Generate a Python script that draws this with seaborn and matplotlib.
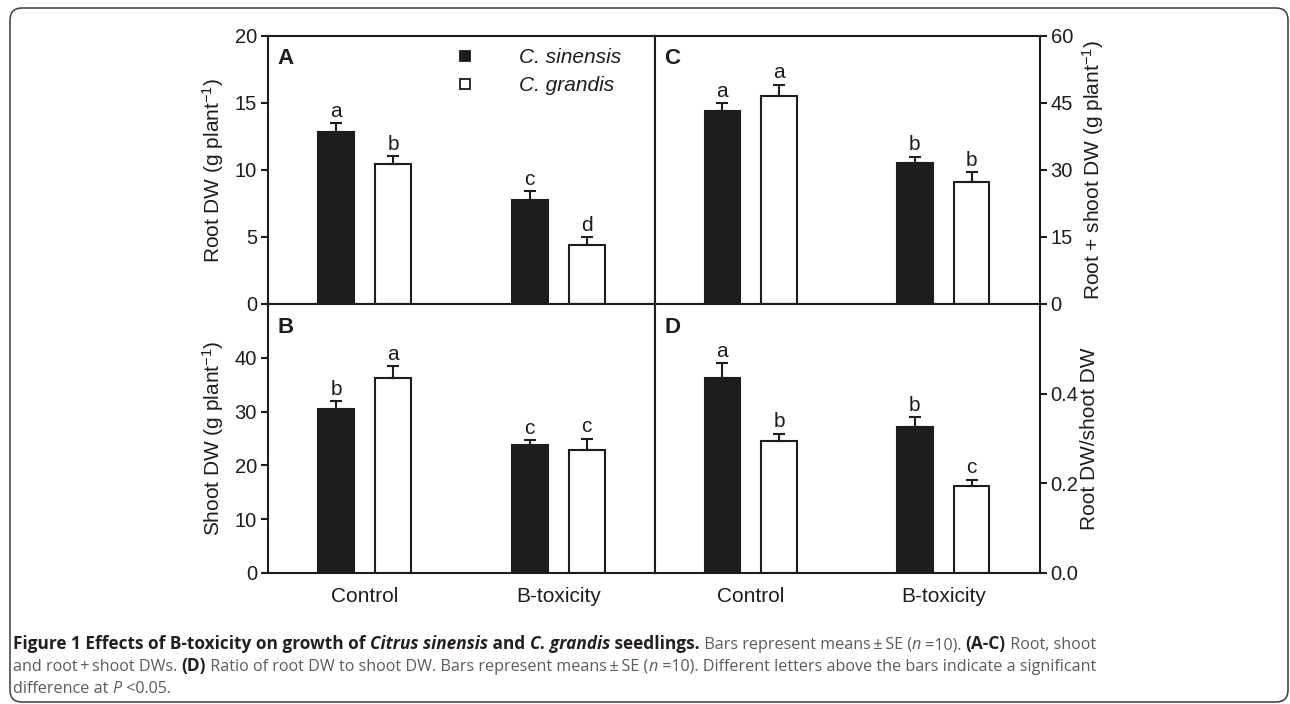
import numpy as np
import pandas as pd
import matplotlib
matplotlib.use("Agg")
import matplotlib.pyplot as plt
import seaborn as sns
from matplotlib.lines import Line2D
from matplotlib.patches import FancyBboxPatch
from matplotlib.transforms import IdentityTransform

# ---------------- data ----------------
treatments = ["Control", "B-toxicity"]
species = ["C. sinensis", "C. grandis"]

root_sin = [12.85, 7.77]
root_sin_se = [0.65, 0.64]
root_gra = [10.45, 4.39]
root_gra_se = [0.60, 0.60]
root_let_sin = ["a", "c"]
root_let_gra = ["b", "d"]
root_ticks = [0, 5, 10, 15, 20]
root_ticklabels = ["0", "5", "10", "15", "20"]

shoot_sin = [30.4, 23.75]
shoot_sin_se = [1.5, 0.95]
shoot_gra = [36.2, 22.9]
shoot_gra_se = [2.2, 2.1]
shoot_let_sin = ["b", "c"]
shoot_let_gra = ["a", "c"]
shoot_ticks = [0, 10, 20, 30, 40]
shoot_ticklabels = ["0", "10", "20", "30", "40"]

total_sin = [43.3, 31.5]
total_sin_se = [1.7, 1.5]
total_gra = [46.5, 27.25]
total_gra_se = [2.6, 2.35]
total_let_sin = ["a", "b"]
total_let_gra = ["a", "b"]
total_ticks = [0, 15, 30, 45, 60]
total_ticklabels = ["0", "15", "30", "45", "60"]

ratio_sin = [0.436, 0.326]
ratio_sin_se = [0.032, 0.022]
ratio_gra = [0.294, 0.193]
ratio_gra_se = [0.017, 0.015]
ratio_let_sin = ["a", "b"]
ratio_let_gra = ["b", "c"]
ratio_ticks = [0.0, 0.2, 0.4]
ratio_ticklabels = ["0.0", "0.2", "0.4"]

# ---------------- style ----------------
sns.set_theme(style="white")
plt.rcParams["font.family"] = ["Liberation Sans", "DejaVu Sans"]
plt.rcParams["mathtext.fontset"] = "custom"
plt.rcParams["mathtext.rm"] = "Liberation Sans"
plt.rcParams["mathtext.it"] = "Liberation Sans:italic"
plt.rcParams["mathtext.bf"] = "Liberation Sans:bold"

BLACK = "#1e1c1d"
TICK_FS = 14.5
LW = 1.5

fig = plt.figure(figsize=(12.9, 7.04), dpi=100)
W, H = 1290.0, 704.0


def axes_px(x0, x1, ytop, ybot):
    return fig.add_axes([x0 / W, (H - ybot) / H, (x1 - x0) / W, (ybot - ytop) / H])


axA = axes_px(268, 655, 36, 304)
axB = axes_px(268, 655, 304, 573)
axC = axes_px(654.5, 1039.5, 36, 304)
axD = axes_px(654.5, 1039.5, 304, 573)


def panel(ax, sin, sin_se, gra, gra_se, let_sin, let_gra, ylim, ticks, ticklabels,
          ylabel, side, letter, show_x):
    df = pd.DataFrame({
        "treatment": treatments * 2,
        "species": [species[0]] * len(treatments) + [species[1]] * len(treatments),
        "value": list(sin) + list(gra),
    })
    sns.barplot(data=df, x="treatment", y="value", hue="species",
                order=treatments, hue_order=species,
                palette={species[0]: BLACK, species[1]: "white"},
                saturation=1, edgecolor=BLACK, linewidth=LW,
                width=0.59, gap=0.375, errorbar=None, legend=False, ax=ax)
    for cont, ses, lets in zip(ax.containers, [sin_se, gra_se], [let_sin, let_gra]):
        for bar, e, lab in zip(cont, ses, lets):
            xc = bar.get_x() + bar.get_width() / 2
            h = bar.get_height()
            ax.errorbar([xc], [h], yerr=[[0], [e]], fmt="none", ecolor=BLACK,
                        elinewidth=LW, capsize=4.3, capthick=LW, zorder=3)
            ax.annotate(lab, (xc, h + e), xytext=(0, 4.5), textcoords="offset points",
                        ha="center", va="baseline", fontsize=15, color=BLACK)
    ax.set_xlim(-0.5, 1.5)
    ax.set_ylim(*ylim)
    ax.set_yticks(ticks)
    ax.set_yticklabels(ticklabels)
    ax.set_xlabel("")
    ax.set_ylabel(ylabel, fontsize=15, color=BLACK)
    for s in ax.spines.values():
        s.set_visible(True)
        s.set_linewidth(LW)
        s.set_color(BLACK)
    ax.tick_params(axis="y", direction="out", length=5, width=LW, color=BLACK,
                   labelsize=TICK_FS, labelcolor=BLACK, pad=3,
                   left=(side == "left"), labelleft=(side == "left"),
                   right=(side == "right"), labelright=(side == "right"))
    ax.tick_params(axis="x", length=0, pad=10, labelsize=15, labelcolor=BLACK,
                   labelbottom=show_x, bottom=False)
    if side == "right":
        ax.yaxis.set_label_position("right")
        ax.yaxis.set_label_coords(1.105, 0.5)
    else:
        ax.yaxis.set_label_coords(-0.108, 0.5)
    ax.annotate(letter, (0, 1), xycoords="axes fraction", xytext=(7, -9),
                textcoords="offset points", ha="left", va="top",
                fontsize=16, fontweight="bold", color=BLACK)
    ax.set_facecolor("white")


panel(axA, root_sin, root_sin_se, root_gra, root_gra_se, root_let_sin, root_let_gra,
      (0, 20), root_ticks, root_ticklabels, "Root DW (g plant$^{-1}$)", "left", "A", False)
panel(axB, shoot_sin, shoot_sin_se, shoot_gra, shoot_gra_se, shoot_let_sin, shoot_let_gra,
      (0, 50), shoot_ticks, shoot_ticklabels, "Shoot DW (g plant$^{-1}$)", "left", "B", True)
panel(axC, total_sin, total_sin_se, total_gra, total_gra_se, total_let_sin, total_let_gra,
      (0, 60), total_ticks, total_ticklabels, "Root + shoot DW (g plant$^{-1}$)", "right", "C", False)
panel(axD, ratio_sin, ratio_sin_se, ratio_gra, ratio_gra_se, ratio_let_sin, ratio_let_gra,
      (0, 0.6), ratio_ticks, ratio_ticklabels, "Root DW/shoot DW", "right", "D", True)

handles = [
    Line2D([], [], marker="s", linestyle="none", markersize=7.5,
           markerfacecolor=BLACK, markeredgecolor=BLACK, markeredgewidth=1.3),
    Line2D([], [], marker="s", linestyle="none", markersize=7.5,
           markerfacecolor="white", markeredgecolor=BLACK, markeredgewidth=1.3),
]
axA.legend(handles, species, loc="upper left", bbox_to_anchor=(0.482, 0.955),
           frameon=False, borderpad=0, borderaxespad=0, handlelength=1.0,
           handletextpad=2.1, labelspacing=0.42,
           prop={"size": 15, "style": "italic"}, labelcolor=BLACK)

# ---------------- frame + caption ----------------
fig.add_artist(FancyBboxPatch((10, 2), 1278, 694,
                              boxstyle="round,pad=0,rounding_size=12",
                              transform=IdentityTransform(), fill=False,
                              ec="#3c3c3c", lw=1.1))

CAP_FONT = ["Open Sans", "Noto Sans", "DejaVu Sans"]
CAP_FS_REG = 11.64
CAP_FS_BOLD = 12.4
DARK = "#231f20"
GREY = "#5a5b5d"
renderer = fig.canvas.get_renderer()


def runs(x, y, items):
    for txt, weight, style in items:
        bold = weight == "bold"
        t = fig.text(x, y, txt, transform=IdentityTransform(),
                     fontsize=CAP_FS_BOLD if bold else CAP_FS_REG,
                     fontweight=weight, fontstyle=style,
                     color=DARK if bold else GREY,
                     family=CAP_FONT, ha="left", va="baseline")
        x += t.get_window_extent(renderer).width


runs(13, 55, [
    ("Figure 1 Effects of B-toxicity on growth of ", "bold", "normal"),
    ("Citrus sinensis", "bold", "italic"),
    (" and ", "bold", "normal"),
    ("C. grandis", "bold", "italic"),
    (" seedlings.", "bold", "normal"),
    (" Bars represent means\u2009\u00b1\u2009SE (", "normal", "normal"),
    ("n", "normal", "italic"),
    (" =10). ", "normal", "normal"),
    ("(A-C)", "bold", "normal"),
    (" Root, shoot", "normal", "normal"),
])
runs(13, 33, [
    ("and root\u2009+\u2009shoot DWs. ", "normal", "normal"),
    ("(D)", "bold", "normal"),
    (" Ratio of root DW to shoot DW. Bars represent means\u2009\u00b1\u2009SE (", "normal", "normal"),
    ("n", "normal", "italic"),
    (" =10). Different letters above the bars indicate a significant", "normal", "normal"),
])
runs(13, 11, [
    ("difference at ", "normal", "normal"),
    ("P", "normal", "italic"),
    (" <0.05.", "normal", "normal"),
])

fig.savefig("out.png", dpi=100, facecolor="white")
